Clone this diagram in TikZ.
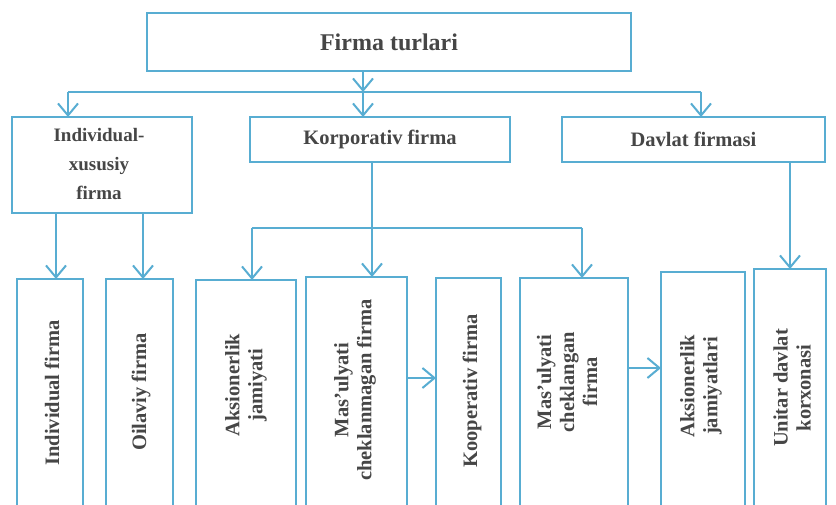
\documentclass[tikz,border=0pt]{standalone}
\usepackage{fontspec}
\setmainfont{Liberation Serif}
\usetikzlibrary{arrows.meta,fit}
\definecolor{lineblue}{HTML}{58ADD2}
\definecolor{textgrey}{HTML}{464646}
\begin{document}
\begin{tikzpicture}[x=1pt,y=-1pt,
  box/.style={draw=lineblue, line width=1.4pt, inner sep=0pt, outer sep=0pt},
  txt/.style={text=textgrey, font=\bfseries\fontsize{20.5}{23}\selectfont, align=center, inner sep=0pt},
  arr/.style={draw=lineblue, line width=1.8pt, -{Straight Barb[length=12pt,width=20pt,line width=2pt]}},
  link/.style={draw=lineblue, line width=1.8pt}]
\useasboundingbox (0,0) rectangle (836,505);
\fill[white] (0,0) rectangle (836,505);
\clip (0,0) rectangle (836,505);

% top level
\node[box, fit={(147,13) (631,71)}] (top) {};
\node[txt, font=\bfseries\fontsize{24}{28}\selectfont] (ttop) at (top.center) {Firma turlari};

% second row
\node[box, fit={(12,117) (192,213)}] (ind) {};
\node[txt, font=\bfseries\fontsize{19}{29}\selectfont] (tind) at (99,164) {Individual-\\xususiy\\firma};
\node[box, fit={(250,117) (510,162)}] (korp) {};
\node[txt] (tkorp) at (korp.center) {Korporativ firma};
\node[box, fit={(562,117) (825,162)}] (davl) {};
\node[txt] (tdavl) at (davl.center) {Davlat firmasi};

% third row boxes
\node[box, fit={(17,279) (83,515)}] (b1) {};
\node[box, fit={(106,279) (173,515)}] (b2) {};
\node[box, fit={(196,280) (296,515)}] (b3) {};
\node[box, fit={(306,277) (407,515)}] (b4) {};
\node[box, fit={(436,278) (501,515)}] (b5) {};
\node[box, fit={(520,278) (628,515)}] (b6) {};
\node[box, fit={(661,272) (745,515)}] (b7) {};
\node[box, fit={(754,269) (826,515)}] (b8) {};

% third row texts
\node[txt, rotate=90] (t1) at (52,393) {Individual firma};
\node[txt, rotate=90] (t2) at (141,392) {Oilaviy firma};
\node[txt, rotate=90] (t3) at (246,385) {Aksionerlik\\jamiyati};
\node[txt, rotate=90] (t4) at (355,390) {Mas'ulyati\\cheklanmagan firma};
\node[txt, rotate=90] (t5) at (472,391) {Kooperativ firma};
\node[txt, rotate=90] (t6) at (567,382) {Mas'ulyati\\cheklangan\\firma};
\node[txt, rotate=90] (t7) at (701,386) {Aksionerlik\\jamiyatlari};
\node[txt, rotate=90] (t8) at (792,388) {Unitar davlat\\korxonasi};

% junction coordinates
\coordinate (jm) at (363,92);
\coordinate (jl) at (68,92);
\coordinate (jr) at (701,92);
\coordinate (ka) at (252,228);
\coordinate (km) at (372,228);
\coordinate (kb) at (582,228);
\coordinate (ia) at (56,0);
\coordinate (ib) at (143,0);
\coordinate (da) at (790,0);
\coordinate (h1) at (0,378);
\coordinate (h2) at (0,368);

% connectors from top
\draw[arr] (top.south -| jm) -- (jm);
\draw[link] (jl) -- (jr);
\draw[arr] (jl) -- (jl |- ind.north);
\draw[arr] (jm) -- (jm |- korp.north);
\draw[arr] (jr) -- (jr |- davl.north);

% individual-xususiy
\draw[arr] (ind.south -| ia) -- (ia |- b1.north);
\draw[arr] (ind.south -| ib) -- (ib |- b2.north);

% korporativ
\draw[arr] (korp.south -| km) -- (km |- b4.north);
\draw[link] (ka) -- (kb);
\draw[arr] (ka) -- (ka |- b3.north);
\draw[arr] (kb) -- (kb |- b6.north);

% davlat
\draw[arr] (davl.south -| da) -- (da |- b8.north);

% horizontal arrows
\draw[arr] (b4.east |- h1) -- (b5.west |- h1);
\draw[arr] (b6.east |- h2) -- (b7.west |- h2);
\end{tikzpicture}
\end{document}
